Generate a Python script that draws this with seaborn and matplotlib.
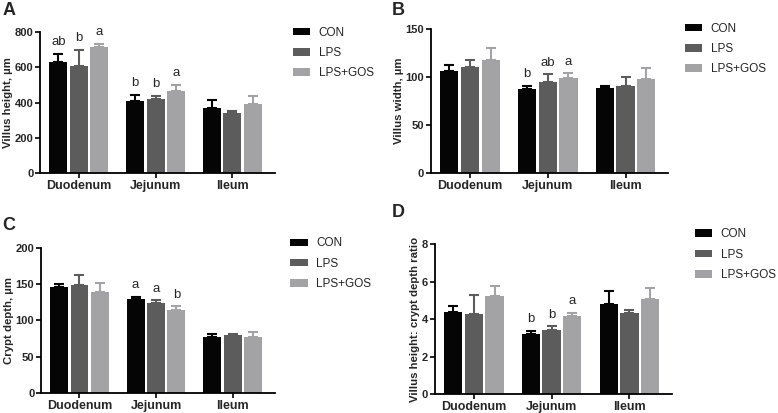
import numpy as np
import pandas as pd
import matplotlib
matplotlib.use('Agg')
import matplotlib.pyplot as plt
import seaborn as sns

regions = ['Duodenum', 'Jejunum', 'Ileum']
groups = ['CON', 'LPS', 'LPS+GOS']
colors = ['#050505', '#5c5c5c', '#a3a3a5']

# values per region (rows) and group (columns), error = SEM upper bar
height_mean = [[630, 608, 715], [410, 418, 467], [367, 339, 390]]
height_err = [[48, 92, 19], [34, 21, 33], [47, 13, 49]]
height_letters = [['ab', 'b', 'a'], ['b', 'b', 'a'], ['', '', '']]

width_mean = [[105.7, 110, 117.4], [87.3, 95, 98.4], [88.3, 91, 98]]
width_err = [[7, 8, 12.6], [3.7, 8, 5.6], [2.7, 8.8, 11]]
width_letters = [['', '', ''], ['b', 'ab', 'a'], ['', '', '']]

depth_mean = [[146, 148.5, 139], [130, 124, 114.5], [77.7, 80.5, 77.7]]
depth_err = [[4, 14.5, 12], [3, 4, 5], [4, 1, 7]]
depth_letters = [['', '', ''], ['a', 'a', 'b'], ['', '', '']]

ratio_mean = [[4.36, 4.25, 5.24], [3.22, 3.43, 4.14], [4.8, 4.3, 5.05]]
ratio_err = [[0.35, 1.03, 0.5], [0.16, 0.18, 0.2], [0.68, 0.16, 0.59]]
ratio_letters = [['', '', ''], ['b', 'b', 'a'], ['', '', '']]

sns.set_style('ticks')
plt.rcParams['font.family'] = ['Liberation Sans', 'DejaVu Sans']

fig = plt.figure(figsize=(7.78, 4.13), dpi=100)


def panel(rect, means, errs, letters, ylabel, yticks, leg_xy, tag, tag_xy):
    ax = fig.add_axes(rect)
    df = pd.DataFrame([(r, g, means[i][j]) for i, r in enumerate(regions)
                       for j, g in enumerate(groups)],
                      columns=['Region', 'Group', 'Value'])
    sns.barplot(data=df, x='Region', y='Value', hue='Group', order=regions,
                hue_order=groups, palette=colors, saturation=1, width=0.8,
                gap=0.12, errorbar=None, legend=False, linewidth=0, ax=ax)
    bars = list(ax.containers)
    for j, container in enumerate(bars):
        for i, bar in enumerate(container.patches):
            x = bar.get_x() + bar.get_width() / 2
            top = bar.get_height()
            ax.errorbar(x, top, yerr=[[0], [errs[i][j]]], fmt='none',
                        ecolor=colors[j], elinewidth=1.5, capsize=3.5,
                        capthick=1.5, zorder=1)
            if letters[i][j]:
                ax.annotate(letters[i][j], (x, top + errs[i][j]),
                            xytext=(0, 4), textcoords='offset points',
                            ha='center', va='bottom', fontsize=9.5)
    ax.set_xlim(-0.5, 2.55)
    ax.set_ylim(0, yticks[-1])
    ax.set_yticks(yticks)
    ax.set_xlabel('')
    ax.set_ylabel(ylabel, fontsize=8.2, fontweight='bold', labelpad=1)
    for lab in ax.get_xticklabels() + ax.get_yticklabels():
        lab.set_fontweight('bold')
    ax.tick_params(axis='y', labelsize=8)
    ax.tick_params(axis='x', labelsize=9)
    ax.tick_params(axis='both', width=1.2, length=3.5, color='black', pad=1.5)
    for s in ['left', 'bottom']:
        ax.spines[s].set_linewidth(1.3)
        ax.spines[s].set_color('black')
    sns.despine(ax=ax)
    ax.legend(bars, groups, loc='upper left',
              bbox_to_anchor=leg_xy, bbox_transform=fig.transFigure,
              frameon=False, fontsize=8.5, handlelength=1.5,
              handleheight=0.6, handletextpad=0.7, labelspacing=0.7,
              borderaxespad=0, borderpad=0)
    fig.text(tag_xy[0], tag_xy[1], tag, fontsize=13, fontweight='bold',
             va='top', ha='left')
    return ax


panel([0.052, 0.581, 0.301, 0.341], height_mean, height_err, height_letters,
      'Villus height, µm', [0, 200, 400, 600, 800], (0.376, 0.935),
      'A', (0.003, 0.995))
panel([0.554, 0.581, 0.305, 0.349], width_mean, width_err, width_letters,
      'Villus width, µm', [0, 50, 100, 150], (0.880, 0.945),
      'B', (0.504, 0.995))
panel([0.053, 0.048, 0.300, 0.352], depth_mean, depth_err, depth_letters,
      'Crypt depth, µm', [0, 50, 100, 150, 200], (0.373, 0.425),
      'C', (0.003, 0.475))
panel([0.559, 0.046, 0.305, 0.363], ratio_mean, ratio_err, ratio_letters,
      'Villus height: crypt depth ratio', [0, 2, 4, 6, 8], (0.893, 0.447),
      'D', (0.504, 0.505))

fig.savefig('out.png', dpi=100)
